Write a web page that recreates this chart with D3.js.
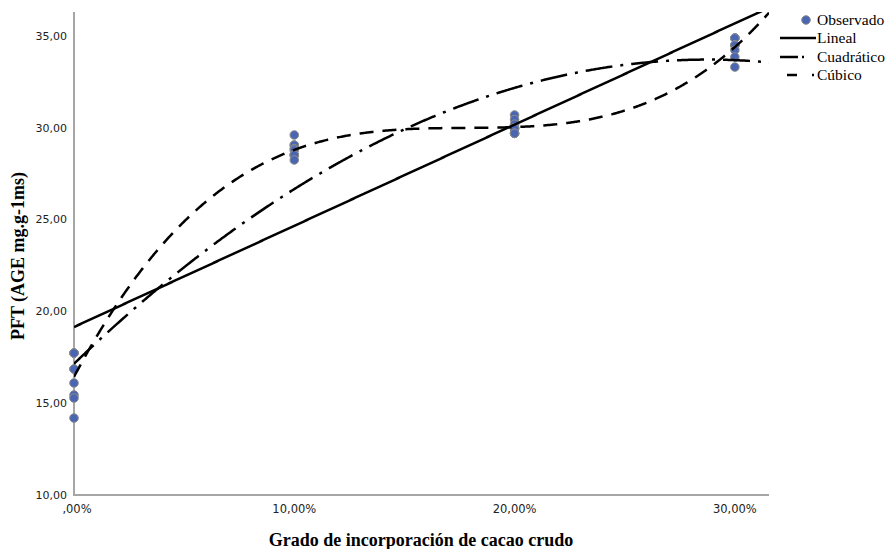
<!DOCTYPE html>
<html>
<head>
<meta charset="utf-8">
<script src="https://cdn.jsdelivr.net/npm/d3@7"></script>
<style>
  body { margin: 0; background: #fff; }
</style>
</head>
<body>
<svg width="891" height="549"></svg>
<script>
// Observed values, one array per level of incorporation (overlapping points included)
var levels = [0, 10, 20, 30];
var obs0  = [17.73, 17.73, 17.73, 16.86, 16.86, 16.10, 15.45, 15.28, 14.19];
var obs10 = [29.61, 29.06, 29.06, 28.87, 28.79, 28.52, 28.52, 28.52, 28.25];
var obs20 = [30.70, 30.45, 30.20, 30.02, 29.95, 29.95, 29.70, 29.70, 29.70];
var obs30 = [34.89, 34.89, 34.89, 34.51, 34.51, 34.50, 34.24, 33.86, 33.31];

var yTicks = [10, 15, 20, 25, 30, 35];
var xTicks = [0, 10, 20, 30];
var legendLabels = ["Observado", "Lineal", "Cuadrático", "Cúbico"];

// The svg
var svg = d3.select("svg"),
    width = +svg.attr("width"),
    height = +svg.attr("height");

var plotL = 74, plotR = 769, plotT = 12, plotB = 495;

var x = d3.scaleLinear().domain([0, 31.55]).range([plotL, plotR]);
var y = d3.scaleLinear().domain([10, 36.31]).range([plotB, plotT]);

// flatten the observations
var points = [];
[obs0, obs10, obs20, obs30].forEach(function(arr, i){
  arr.forEach(function(v){ points.push({x: levels[i], y: v}) });
});

// least squares polynomial fit (normal equations)
function polyFit(data, deg){
  var n = deg + 1, A = [], b = [];
  for (var i = 0; i < n; i++){
    A.push(d3.range(n).map(function(){ return 0 }));
    b.push(0);
  }
  data.forEach(function(p){
    for (var i = 0; i < n; i++){
      for (var j = 0; j < n; j++) A[i][j] += Math.pow(p.x, i + j);
      b[i] += Math.pow(p.x, i) * p.y;
    }
  });
  // gaussian elimination
  for (var c = 0; c < n; c++){
    for (var r = c + 1; r < n; r++){
      var f = A[r][c] / A[c][c];
      for (var k = c; k < n; k++) A[r][k] -= f * A[c][k];
      b[r] -= f * b[c];
    }
  }
  var coef = new Array(n);
  for (var r = n - 1; r >= 0; r--){
    var s = b[r];
    for (var k = r + 1; k < n; k++) s -= A[r][k] * coef[k];
    coef[r] = s / A[r][r];
  }
  return coef;
}

function evalPoly(coef, v){
  return coef.reduce(function(acc, c, i){ return acc + c * Math.pow(v, i) }, 0);
}

var fits = [
  {name: "Lineal", coef: polyFit(points, 1), dash: null},
  {name: "Cuadrático", coef: polyFit(points, 2), dash: "27,8,3,8"},
  {name: "Cúbico", coef: polyFit(points, 3), dash: "14,9"}
];

// clip to the plot area
svg.append("clipPath").attr("id", "plotClip")
  .append("rect")
    .attr("x", plotL).attr("y", plotT)
    .attr("width", plotR - plotL).attr("height", plotB - plotT);

// axis lines
svg.append("line")
  .attr("x1", plotL).attr("x2", plotL).attr("y1", plotT).attr("y2", plotB + 1)
  .attr("stroke", "#a6a6a6").attr("stroke-width", 2);
svg.append("line")
  .attr("x1", plotL - 1).attr("x2", plotR).attr("y1", plotB).attr("y2", plotB)
  .attr("stroke", "#a6a6a6").attr("stroke-width", 2);

// tick labels
function comma(v){ return v.toFixed(2).replace(".", ",") }

svg.append("g")
  .selectAll("text")
  .data(yTicks)
  .enter()
  .append("text")
    .attr("x", plotL - 7)
    .attr("y", function(d){ return y(d) })
    .attr("dy", "0.35em")
    .attr("text-anchor", "end")
    .style("font-family", "DejaVu Sans")
    .style("font-size", "11px")
    .style("fill", "#222")
    .text(comma);

svg.append("g")
  .selectAll("text")
  .data(xTicks)
  .enter()
  .append("text")
    .attr("x", function(d){ return x(d) + (d === 0 ? 3 : 0) })
    .attr("y", plotB + 18)
    .attr("text-anchor", "middle")
    .style("font-family", "DejaVu Sans")
    .style("font-size", "11.5px")
    .style("fill", "#222")
    .text(function(d){ var s = comma(d) + "%"; return d === 0 ? s.replace(/^0/, "") : s });

// axis titles
svg.append("text")
  .attr("x", 421).attr("y", 546)
  .attr("text-anchor", "middle")
  .style("font-family", "Liberation Serif")
  .style("font-weight", "bold")
  .style("font-size", "18px")
  .text("Grado de incorporación de cacao crudo");

svg.append("text")
  .attr("transform", "translate(24,256) rotate(-90)")
  .attr("text-anchor", "middle")
  .style("font-family", "Liberation Serif")
  .style("font-weight", "bold")
  .style("font-size", "18px")
  .text("PFT (AGE mg.g-1ms)");

// points
svg.append("g")
  .selectAll("circle")
  .data(points)
  .enter()
  .append("circle")
    .attr("cx", function(d){ return x(d.x) })
    .attr("cy", function(d){ return y(d.y) })
    .attr("r", 4.3)
    .style("fill", "#4a66b3")
    .attr("stroke", "#8c8c8c")
    .attr("stroke-width", 1);

// fitted curves
var grid = d3.range(0, 31.56, 0.05);
var line = d3.line()
  .x(function(d){ return x(d[0]) })
  .y(function(d){ return y(d[1]) });

svg.append("g")
  .attr("clip-path", "url(#plotClip)")
  .selectAll("path")
  .data(fits)
  .enter()
  .append("path")
    .attr("d", function(f){ return line(grid.map(function(v){ return [v, evalPoly(f.coef, v)] })) })
    .attr("fill", "none")
    .attr("stroke", "black")
    .attr("stroke-width", 2.5)
    .attr("stroke-dasharray", function(f){ return f.dash });

// legend
var lg = svg.append("g").style("font-family", "Liberation Serif").style("font-size", "15.5px");
var rows = [20, 38, 57, 75];
lg.append("circle").attr("cx", 806).attr("cy", rows[0]).attr("r", 4.3)
  .style("fill", "#4a66b3").attr("stroke", "#8c8c8c");
lg.append("line").attr("x1", 780).attr("x2", 816).attr("y1", rows[1]).attr("y2", rows[1])
  .attr("stroke", "black").attr("stroke-width", 2.5);
lg.append("line").attr("x1", 780).attr("x2", 804).attr("y1", rows[2]).attr("y2", rows[2])
  .attr("stroke", "black").attr("stroke-width", 2.5).attr("stroke-dasharray", "18,4,2,30");
lg.append("line").attr("x1", 787).attr("x2", 815).attr("y1", rows[3]).attr("y2", rows[3])
  .attr("stroke", "black").attr("stroke-width", 2.5).attr("stroke-dasharray", "10,15,2,20");
legendLabels.forEach(function(t, i){
  lg.append("text").attr("x", 817).attr("y", rows[i]).attr("dy", "0.35em").text(t);
});
</script>
</body>
</html>
